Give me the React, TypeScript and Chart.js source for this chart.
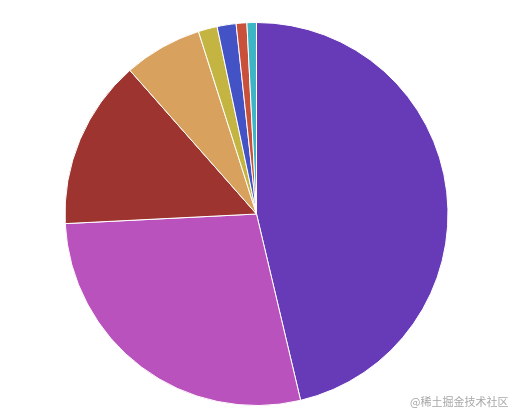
import React, { useEffect, useRef } from "react";
import { Chart, registerables } from "chart.js";

Chart.register(...registerables);

const categories = ["A", "B", "C", "D", "E", "F", "G", "H"];
const values = [46.3, 27.9, 14.3, 6.6, 1.6, 1.6, 0.9, 0.8];
const colors = ["#673bb7", "#ba52be", "#9d3430", "#d9a15e", "#c4b542", "#4353c5", "#c9503a", "#3db5c4"];
const watermark = "@稀土掘金技术社区";

export default function App() {
  const ref = useRef<HTMLCanvasElement>(null);
  useEffect(() => {
    document.body.style.margin = "0";
    const chart = new Chart(ref.current!, {
      type: "pie",
      data: {
        labels: categories,
        datasets: [
          {
            data: values,
            backgroundColor: colors,
            borderColor: "#ffffff",
            borderWidth: 1,
          },
        ],
      },
      options: {
        animation: false,
        responsive: false,
        maintainAspectRatio: false,
        layout: { padding: { left: 0, right: 7, top: 22, bottom: 12 } },
        plugins: { legend: { display: false }, tooltip: { enabled: false } },
      },
    });
    return () => chart.destroy();
  }, []);
  return (
    <div style={{ position: "relative", width: 520, height: 418, background: "#fff" }}>
      <canvas ref={ref} width={520} height={418} style={{ display: "block", width: 520, height: 418 }} />
      <div
        style={{
          position: "absolute",
          left: 410,
          top: 394,
          fontFamily: "'Noto Sans CJK SC', sans-serif",
          fontSize: 11,
          color: "#a8a8a8",
          whiteSpace: "nowrap",
          lineHeight: "14px",
        }}
      >
        {watermark}
      </div>
    </div>
  );
}
